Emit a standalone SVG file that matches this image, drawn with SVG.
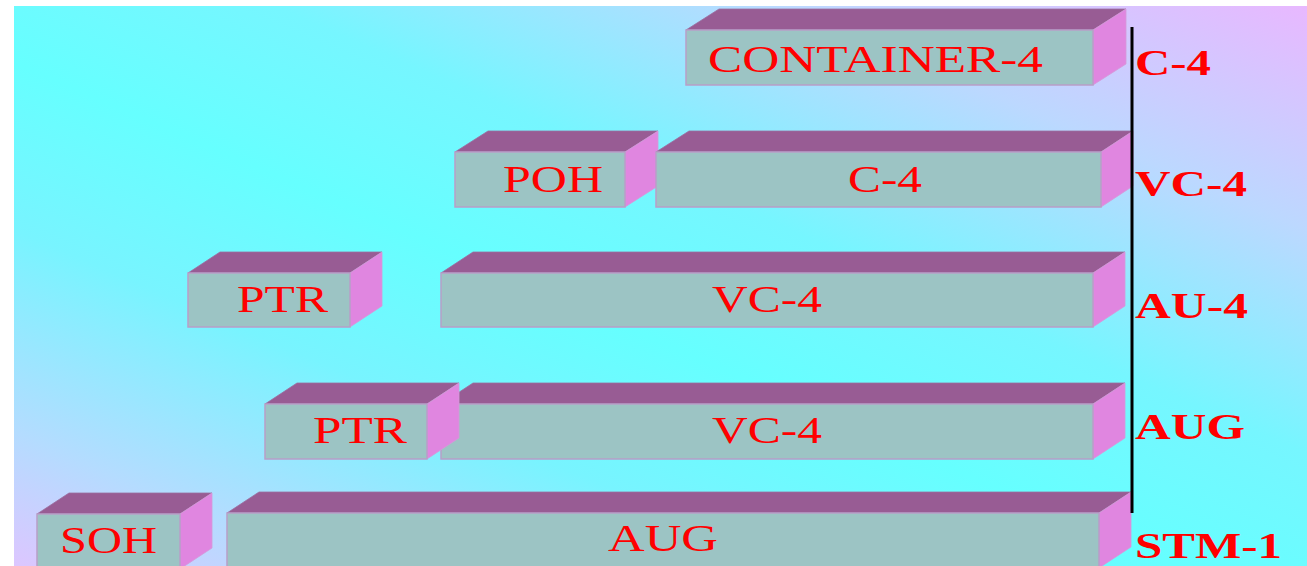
<svg xmlns="http://www.w3.org/2000/svg" width="1307" height="566" viewBox="0 0 1307 566">
  <defs>
    <!-- diagonal backdrop: lavender corners, cyan band through the middle -->
    <linearGradient id="bg" x1="1" y1="0" x2="0" y2="1">
      <stop offset="0" stop-color="#e8b8ff"/>
      <stop offset="0.2" stop-color="#bcd8ff"/>
      <stop offset="0.4" stop-color="#76f6ff"/>
      <stop offset="0.55" stop-color="#66ffff"/>
      <stop offset="0.7" stop-color="#78f4ff"/>
      <stop offset="0.88" stop-color="#b4dcff"/>
      <stop offset="1" stop-color="#dcc6ff"/>
    </linearGradient>
    <style>
      .front { fill: #9cc4c4; stroke: #b89ec8; stroke-width: 1.5; }
      .top { fill: #985c94; stroke: #9a6fa0; stroke-width: 0.8; }
      .side { fill: #e086e0; stroke: #d49ad8; stroke-width: 0.8; }
      .lbl { font-family: "Liberation Serif", "Times New Roman", serif; font-size: 37px; fill: #ff0000; }
      .lvl { font-family: "Liberation Serif", "Times New Roman", serif; font-size: 36px; font-weight: bold; fill: #ff0000; }
    </style>
  </defs>

  <rect x="0" y="0" width="1307" height="566" fill="#ffffff"/>
  <rect x="14" y="6" width="1293" height="560" fill="url(#bg)"/>

  <!-- Row 1: C-4 -->
  <g id="container4">
    <polygon class="top" points="686,30 719,9 1126,9 1093,30"/>
    <polygon class="side" points="1093,30 1126,9 1126,64 1093,85"/>
    <rect class="front" x="686" y="30" width="407" height="55"/>
    <text class="lbl" x="708" y="72" font-size="39" textLength="335" lengthAdjust="spacingAndGlyphs">CONTAINER-4</text>
  </g>

  <!-- Row 2: VC-4 -->
  <g id="poh">
    <polygon class="top" points="455,152 488,131 658,131 625,152"/>
    <polygon class="side" points="625,152 658,131 658,186 625,207"/>
    <rect class="front" x="455" y="152" width="170" height="55"/>
    <text class="lbl" x="503" y="192" textLength="100" lengthAdjust="spacingAndGlyphs">POH</text>
  </g>
  <g id="vc4-c4">
    <polygon class="top" points="656,152 689,131 1133,131 1101,152"/>
    <polygon class="side" points="1101,152 1133,131 1133,186 1101,207"/>
    <rect class="front" x="656" y="152" width="445" height="55"/>
    <text class="lbl" x="848" y="192" textLength="74" lengthAdjust="spacingAndGlyphs">C-4</text>
  </g>

  <!-- Row 3: AU-4 -->
  <g id="au4-ptr">
    <polygon class="top" points="188,273 220,252 382,252 350,273"/>
    <polygon class="side" points="350,273 382,252 382,306 350,327"/>
    <rect class="front" x="188" y="273" width="162" height="54"/>
    <text class="lbl" x="237" y="312" textLength="91" lengthAdjust="spacingAndGlyphs">PTR</text>
  </g>
  <g id="au4-vc4">
    <polygon class="top" points="441,273 473,252 1125,252 1093,273"/>
    <polygon class="side" points="1093,273 1125,252 1125,306 1093,327"/>
    <rect class="front" x="441" y="273" width="652" height="54"/>
    <text class="lbl" x="712" y="312" textLength="110" lengthAdjust="spacingAndGlyphs">VC-4</text>
  </g>

  <!-- Row 4: AUG -->
  <g id="aug-vc4">
    <polygon class="top" points="441,404 473,383 1125,383 1093,404"/>
    <polygon class="side" points="1093,404 1125,383 1125,438 1093,459"/>
    <rect class="front" x="441" y="404" width="652" height="55"/>
    <text class="lbl" x="712" y="443" textLength="110" lengthAdjust="spacingAndGlyphs">VC-4</text>
  </g>
  <g id="aug-ptr">
    <polygon class="top" points="265,404 297,383 459,383 427,404"/>
    <polygon class="side" points="427,404 459,383 459,438 427,459"/>
    <rect class="front" x="265" y="404" width="162" height="55"/>
    <text class="lbl" x="313" y="443" textLength="94" lengthAdjust="spacingAndGlyphs">PTR</text>
  </g>

  <!-- Row 5: STM-1 -->
  <g id="soh">
    <polygon class="top" points="37,514 69,493 212,493 180,514"/>
    <polygon class="side" points="180,514 212,493 212,548 180,569"/>
    <rect class="front" x="37" y="514" width="143" height="56"/>
    <text class="lbl" x="60" y="553" textLength="97" lengthAdjust="spacingAndGlyphs">SOH</text>
  </g>
  <g id="stm1-aug">
    <polygon class="top" points="227,513 259,492 1131,492 1099,513"/>
    <polygon class="side" points="1099,513 1131,492 1131,547 1099,568"/>
    <rect class="front" x="227" y="513" width="872" height="56"/>
    <text class="lbl" x="608" y="551" textLength="110" lengthAdjust="spacingAndGlyphs">AUG</text>
  </g>

  <!-- level axis -->
  <g id="connectors">
    <line x1="1132" y1="27" x2="1132" y2="513" stroke="#000000" stroke-width="3"/>
  </g>

  <!-- level names -->
  <g id="levels">
    <text class="lvl" x="1135" y="75" textLength="76" lengthAdjust="spacingAndGlyphs">C-4</text>
    <text class="lvl" x="1135" y="196" textLength="112" lengthAdjust="spacingAndGlyphs">VC-4</text>
    <text class="lvl" x="1135" y="318" textLength="113" lengthAdjust="spacingAndGlyphs">AU-4</text>
    <text class="lvl" x="1135" y="439" textLength="110" lengthAdjust="spacingAndGlyphs">AUG</text>
    <text class="lvl" x="1135" y="558" font-size="35" textLength="147" lengthAdjust="spacingAndGlyphs">STM-1</text>
  </g>
</svg>
